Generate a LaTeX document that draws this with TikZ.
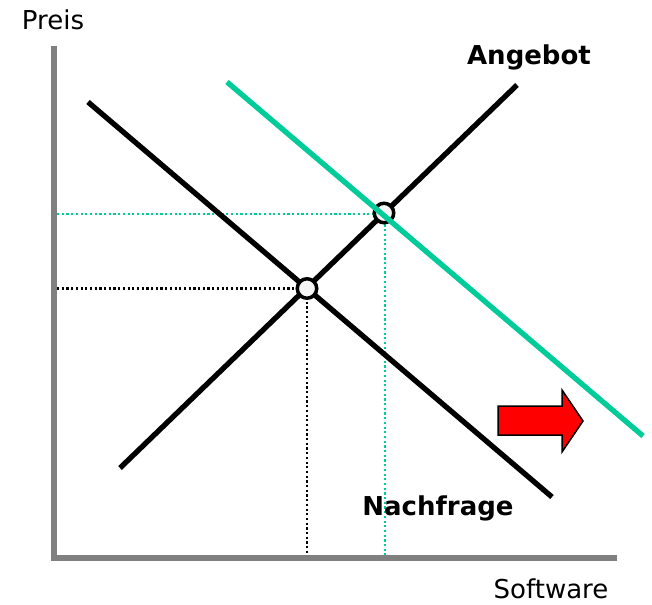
\documentclass[tikz,border=0pt]{standalone}
\usepackage{fontspec}
\setmainfont{DejaVu Sans}
\usetikzlibrary{shapes,arrows}

\definecolor{achse}{RGB}{128,128,128}
\definecolor{neugruen}{RGB}{0,204,153}

\tikzset{
  kurve/.style={line width=5.3pt, line cap=butt},
  hilfslinie/.style={line width=2.2pt, dash pattern={on 2.2pt off 2.5pt}},
  gleichgewicht/.style={circle, draw=black, fill={rgb,255:red,245;green,245;blue,245}, line width=3.5pt, minimum size=19.5pt, inner sep=0pt},
  beschriftung/.style={anchor=base, inner sep=0.75pt, font=\fontsize{26}{30}\selectfont}
}

\begin{document}
\begin{tikzpicture}[x=1pt,y=1pt,yscale=-1,xscale=1]
\useasboundingbox (0,0) rectangle (652,604);

%Axes
\coordinate (ursprung) at (54,558);
\coordinate (yspitze) at (54,46);
\coordinate (xspitze) at (617,558);
\draw [color=achse, line width=5.5pt] (yspitze) -- (ursprung) -- (xspitze);

%Curves
\coordinate (angebotA) at (120,468);
\coordinate (angebotB) at (517,85);
\coordinate (nachfrageA) at (88,102);
\coordinate (nachfrageB) at (552,497);
\coordinate (neuA) at (227,82);
\coordinate (neuB) at (643,436);

%Equilibrium points
\coordinate (gg1) at (307,288.5);
\coordinate (gg2) at (384,213);

%Guide lines
\coordinate (p1) at (57,288.5);
\coordinate (q1) at (307,555);
\coordinate (p2) at (57,214);
\coordinate (r2) at (385,214);
\coordinate (q2) at (385,555);
\draw [hilfslinie, color=black] (p1) -- (gg1) -- (q1);
\draw [hilfslinie, color=neugruen] (p2) -- (r2) -- (q2);

\draw [kurve, color=black] (nachfrageA) -- (nachfrageB);
\draw [kurve, color=black] (angebotA) -- (angebotB);
\node [gleichgewicht] (kreis1) at (gg1) {};
\node [gleichgewicht] (kreis2) at (gg2) {};
\draw [kurve, color=neugruen] (neuA) -- (neuB);

%Shift arrow
\draw [fill=red, line width=1.5pt, line join=miter] (498,406) -- (562,406) -- (562,390) -- (583,421) -- (562,452) -- (562,435) -- (498,435) -- cycle ;

% Text Node
\node [beschriftung] (preis) at (53,30) {Preis};
% Text Node
\node [beschriftung] (software) at (551,598) {Software};
% Text Node
\node [beschriftung, font=\fontsize{26}{30}\selectfont\bfseries] (angebot) at (529,65) {Angebot};
% Text Node
\node [beschriftung, font=\fontsize{26}{30}\selectfont\bfseries] (nachfrage) at (438,515) {Nachfrage};

\end{tikzpicture}
\end{document}
